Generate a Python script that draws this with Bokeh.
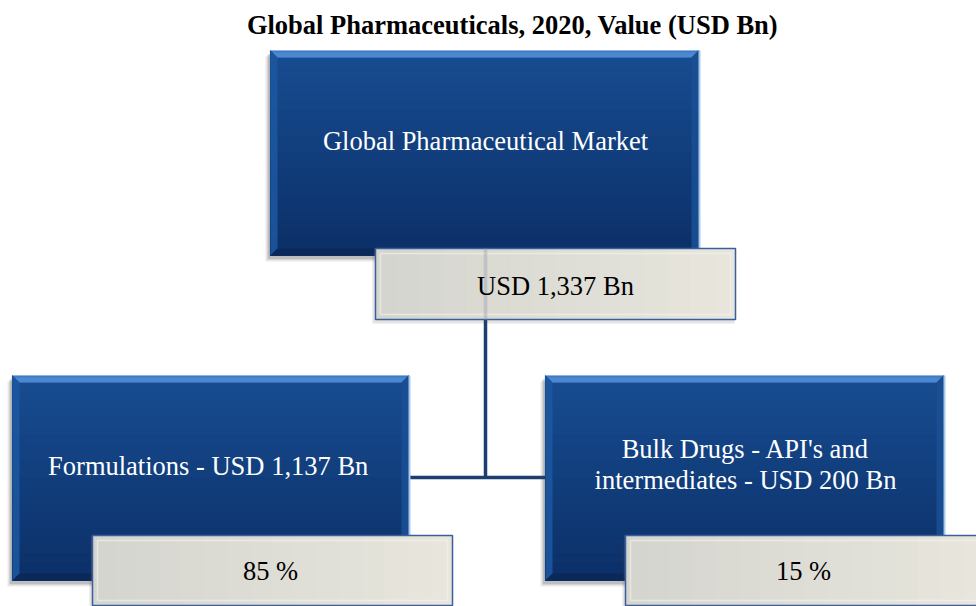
from bokeh.plotting import figure
from bokeh.models import Range1d, ColumnDataSource
from bokeh.core.properties import value
from bokeh.embed import file_html
from bokeh.resources import INLINE

# ---------------- data ----------------
title_text = "Global Pharmaceuticals, 2020, Value (USD Bn)"
total_label = "Global Pharmaceutical Market"
total_value = 1337
segment_names = ["Formulations -  USD", "Bulk Drugs - API's and\nintermediates - USD"]
segment_values = [1137, 200]
segment_shares = [85, 15]

# ---------------- layout (pixel coordinates, y grows downward) ----------------
W, H = 976, 606
p = figure(width=W, height=H, output_backend="svg", toolbar_location=None,
           x_range=Range1d(0, W), y_range=Range1d(H, 0),
           min_border=0, outline_line_color=None)
p.axis.visible = False
p.grid.visible = False
p.background_fill_color = "white"
p.border_fill_color = "white"

SERIF = value("Liberation Serif")
FS = "26.5px"

top_box = (270, 698, 50, 255)
seg_boxes = [(12, 408, 375, 580), (545, 943, 375, 580)]
top_tag = (375, 735, 248, 319)
seg_tags = [(92, 452, 535, 605), (625, 985, 535, 605)]


def hexlerp(c1, c2, t):
    a = [int(c1[i:i + 2], 16) for i in (1, 3, 5)]
    b = [int(c2[i:i + 2], 16) for i in (1, 3, 5)]
    return "#%02x%02x%02x" % tuple(int(round(a[k] + (b[k] - a[k]) * t)) for k in range(3))


# connectors
cx = 485
ly = 477
LINE_COL = "#1d3f70"
p.line([cx, cx], [255, ly], line_color=LINE_COL, line_width=3.5)
p.line([408, 545], [ly, ly], line_color=LINE_COL, line_width=3.5)


def blue_box(l, r, t, b):
    # shadow
    p.quad(left=[l - 5], right=[r - 1], top=[t + 6], bottom=[b + 6],
           fill_color="#404040", fill_alpha=0.12, line_color=None)
    p.quad(left=[l - 3], right=[r - 2], top=[t + 4], bottom=[b + 4],
           fill_color="#404040", fill_alpha=0.25, line_color=None)
    # body gradient
    n = 24
    h = (b - t) / n
    lefts, rights, tops, bots, cols = [], [], [], [], []
    for i in range(n):
        lefts.append(l); rights.append(r)
        tops.append(t + i * h); bots.append(t + (i + 1) * h)
        cols.append(hexlerp("#174c91", "#0c3068", i / (n - 1)))
    p.quad(left=lefts, right=rights, top=tops, bottom=bots, fill_color=cols,
           line_color=cols, line_width=1.2)
    bev = 7
    # top bevel
    p.patch([l, r, r - bev, l + bev], [t, t, t + bev, t + bev], fill_color="#3f7cc8", line_color=None)
    p.patch([l + 2, r - 2, r - bev, l + bev], [t + 2, t + 2, t + bev, t + bev], fill_color="#5790d6",
            fill_alpha=0.6, line_color=None)
    # left bevel
    p.patch([l, l + bev, l + bev, l], [t, t + bev, b - bev, b], fill_color="#1c569f", fill_alpha=0.9, line_color=None)
    # right bevel
    p.patch([r, r - bev, r - bev, r], [t, t + bev, b - bev, b], fill_color="#1a4f94", fill_alpha=0.9, line_color=None)
    # bottom bevel
    p.patch([l, r, r - bev, l + bev], [b, b, b - bev, b - bev], fill_color="#0a2858", line_color=None)
    # light edges
    p.line([r + 1, r + 1], [t, b], line_color="#a9c9ec", line_width=2)
    p.line([l, r], [t, t], line_color="#8fb3e0", line_width=1)


def tag_box(l, r, t, b):
    p.quad(left=[l - 3], right=[r - 1], top=[t + 4], bottom=[b + 4],
           fill_color="#404040", fill_alpha=0.15, line_color=None)
    n = 16
    w = (r - l) / n
    cols = [hexlerp("#d5d5cf", "#e7e5dc", i / (n - 1)) for i in range(n)]
    p.quad(left=[l + i * w for i in range(n)], right=[l + (i + 1) * w for i in range(n)],
           top=[t] * n, bottom=[b] * n, fill_color=cols, line_color=cols, line_width=1.2)
    p.quad(left=[l + 5], right=[r - 5], top=[t + 5], bottom=[b - 5],
           fill_color=None, line_color="#f4f3ee", line_alpha=0.6, line_width=1.5)
    p.quad(left=[l], right=[r], top=[t], bottom=[b],
           fill_color=None, line_color="#3b5f9c", line_width=1.5)


blue_box(*top_box)
for bx in seg_boxes:
    blue_box(*bx)

tag_box(*top_tag)
for tb in seg_tags:
    tag_box(*tb)

# faint connector showing through the top tag
p.line([cx, cx], [top_tag[2], top_tag[3]], line_color="#8a98ad", line_width=3.5, line_alpha=0.35)

# texts
p.text(x=[512], y=[24], text=[title_text], text_font=SERIF, text_font_style="bold",
       text_font_size="26.5px", text_align="center", text_baseline="middle", text_color="#000000")

p.text(x=[485], y=[140], text=[total_label], text_font=SERIF, text_font_size=FS,
       text_align="center", text_baseline="middle", text_color="#ffffff")
p.text(x=[555], y=[285], text=["USD {:,} Bn".format(total_value)], text_font=SERIF,
       text_font_size=FS, text_align="center", text_baseline="middle", text_color="#000000")

seg_text_pos = [(211, 465), (745, 464)]
seg_src = ColumnDataSource(dict(
    x=[pt[0] for pt in seg_text_pos], y=[pt[1] for pt in seg_text_pos],
    t=["{} {:,} Bn".format(nm, v) for nm, v in zip(segment_names, segment_values)]))
p.text(x="x", y="y", text="t", source=seg_src, text_font=SERIF, text_font_size=FS,
       text_align="center", text_baseline="middle", text_color="#ffffff", text_line_height=1.05)

share_pos = [(270, 570), (803, 570)]
share_src = ColumnDataSource(dict(
    x=[pt[0] for pt in share_pos], y=[pt[1] for pt in share_pos],
    t=["{} %".format(s) for s in segment_shares]))
p.text(x="x", y="y", text="t", source=share_src, text_font=SERIF, text_font_size=FS,
       text_align="center", text_baseline="middle", text_color="#000000")

open("out.html", "w").write(file_html(p, INLINE))
